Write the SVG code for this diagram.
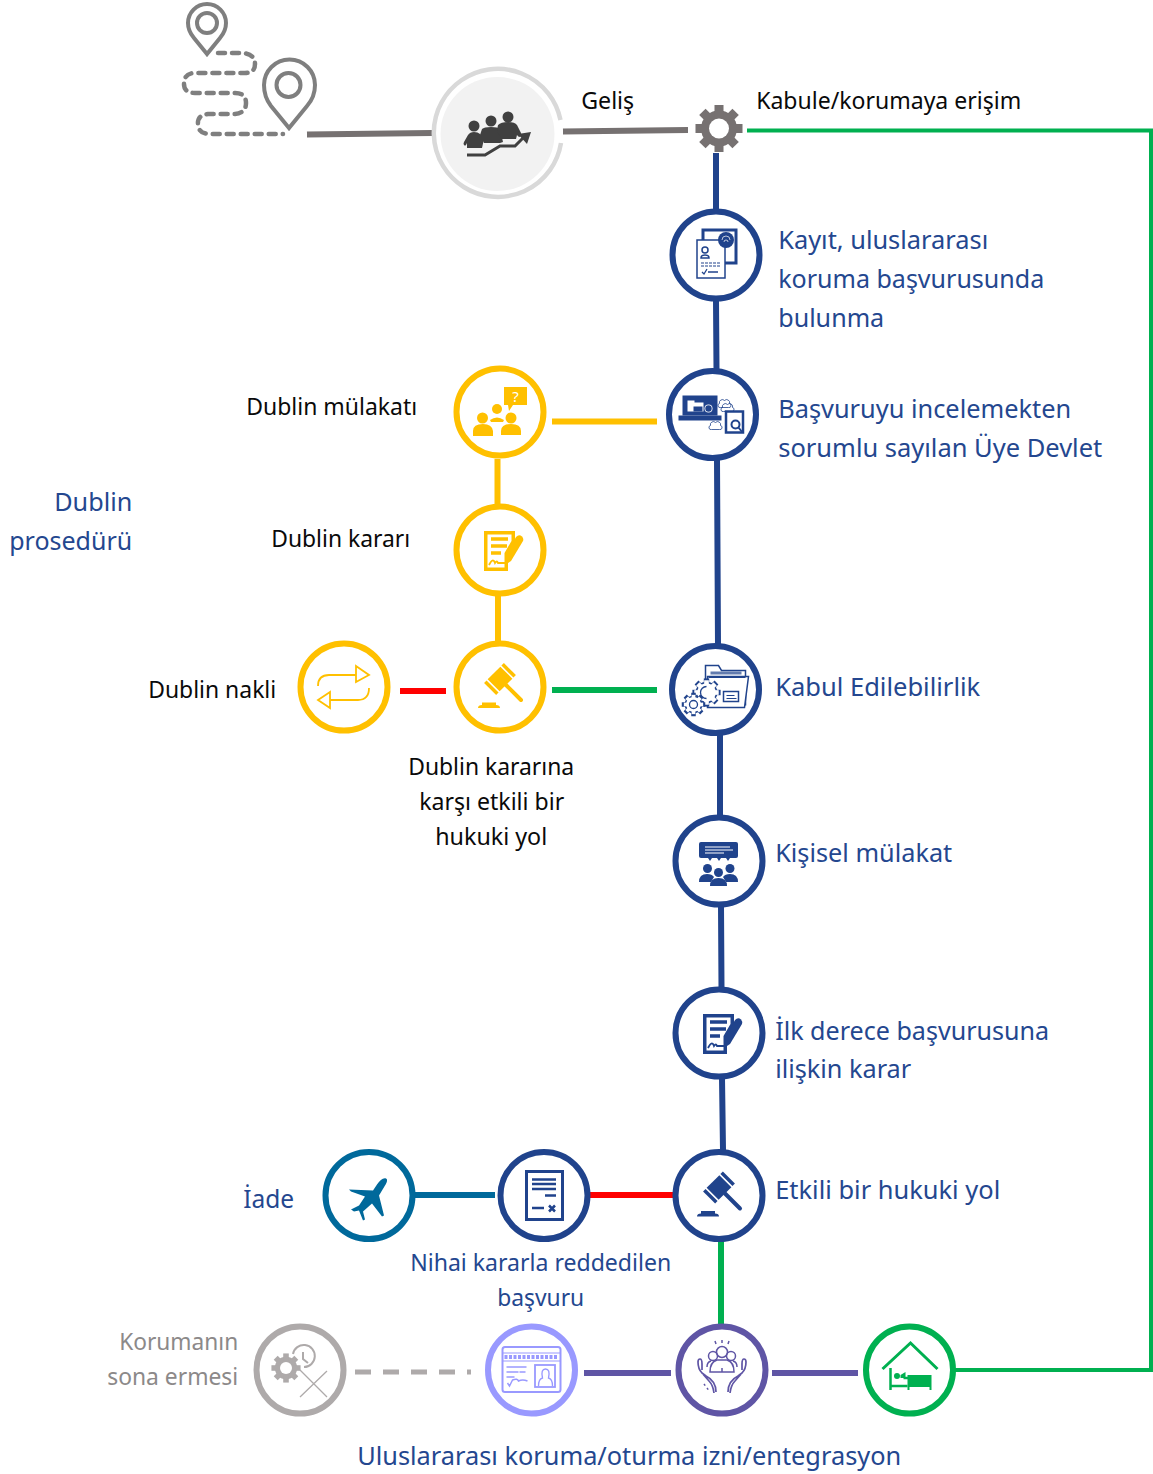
<svg xmlns="http://www.w3.org/2000/svg" width="1153" height="1474" viewBox="0 0 1153 1474">
<style>
text{font-family:"Noto Sans","Open Sans","Liberation Sans",sans-serif}
.k{fill:#0a0a0a;font-size:23px}
.b{fill:#24478f;font-size:26px}
.s{fill:#24478f;font-size:24px}
.g{fill:#8c8989;font-size:23px}
.ring{fill:#fff;stroke-width:6;stroke:currentColor}
.navy{color:#20438c}.yel{color:#ffc000}.teal{color:#00699b}.lav{color:#9999ff}.pur{color:#5f55a5}.grn{color:#00b050}.gry{color:#aeaaaa}
.f{fill:currentColor;stroke:none}
.l{fill:none;stroke:currentColor}
#connectors path{fill:none;stroke-width:6}
</style>
<defs>
<g id="g8">
<circle r="18"/>
<g id="t2"><rect x="-4.500" y="-23.500" width="9" height="47"/><rect x="-4.500" y="-23.500" width="9" height="47" transform="rotate(90)"/></g>
<rect x="-4.500" y="-23.500" width="9" height="47" transform="rotate(45)"/>
<rect x="-4.500" y="-23.500" width="9" height="47" transform="rotate(135)"/>
</g>
<g id="decide">
<path class="f" d="M-16,-19H15V-8L8,4V21H-16Z"/>
<path d="M-12.500,-15.500H11.500V-9L4.500,3V17.500H-12.500Z" fill="#fff"/>
<path class="l" stroke-width="3.500" d="M-9,-11H8M-9,-4H7M-9,3H1"/>
<path class="f" d="M16,-13Q19,-16 22,-13.500Q24,-11 23,-9L11,11L5,15L5.500,6Z"/>
<path class="l" stroke-width="1.800" d="M-11,15Q-7,7 -5,13Q-3,10 -2,13H5"/>
</g>
<g id="gavel">
<g transform="translate(0,-8) rotate(-45)">
<rect x="-9" y="-8.500" width="18" height="17" class="f"/>
<rect x="-14" y="-8.500" width="3.500" height="17" class="f"/>
<rect x="10.500" y="-8.500" width="3.500" height="17" class="f"/>
</g>
<path class="l" stroke-width="4" stroke-linecap="round" d="M6,-2L21,13"/>
<path class="f" d="M-22,21Q-22,18 -18,18V15.500H-4V18Q0,18 0,21Z"/>
</g>
</defs>

<g id="connectors">
<path stroke="#767171" d="M307,134.500L432,133"/>
<path stroke="#767171" d="M563,131.500L688,130"/>
<path stroke="#00b050" style="stroke-width:4" d="M747,130.500H1151V1370H955"/>
<path stroke="#20438c" d="M716,153V210M716,300L716.500,370M717,460L718,645M720,735V816M721,906L721.500,988M722,1078L723,1150"/>
<path stroke="#ffc000" d="M552,421.500H657M497.500,459V504M498,596V641"/>
<path stroke="#ff0000" d="M400,691H446M590,1195H674"/>
<path stroke="#00b050" d="M552,690H657M721,1238V1325"/>
<path stroke="#00699b" d="M414,1195H495"/>
<path stroke="#5f55a5" d="M584,1373H671M772,1373H858"/>
<path stroke="#aeaaaa" stroke-dasharray="16 12" style="stroke-width:5" d="M355,1372H471"/>
</g>

<g id="start-pins" fill="none" stroke="#7f7f7f">
<path stroke-width="4" d="M207,54L194,38Q188,31 188,23A19,19 0 0 1 226,23Q226,31 220,38Z"/>
<circle cx="207" cy="23" r="10" stroke-width="4"/>
<path stroke-width="4" d="M289,128L271,106Q264,97 264,85A25.500,25.500 0 0 1 315,85Q315,97 307,106Z"/>
<circle cx="288.500" cy="85" r="12" stroke-width="4"/>
<path stroke-width="4.500" stroke-linecap="round" stroke-dasharray="7 7" d="M218,53H240Q255,53 255,64Q255,73 245,73H195Q184,73 184,84Q184,93 195,93H235Q246,93 246,103Q246,113 235,114H208Q197,115 198,125Q199,134 210,134H283"/>
</g>

<g id="arrival">
<circle cx="497.500" cy="134" r="57" fill="#f2f2f2"/>
<path fill="none" stroke="#d9d9d9" stroke-width="4.500" d="M560.500,120A64,64 0 1 0 561,143"/>
<g fill="#404040">
<circle cx="474" cy="126" r="5.500"/><circle cx="491" cy="121" r="5.500"/><circle cx="508" cy="117" r="5.500"/>
<path d="M464,145Q463,144 464,142L468,135Q470,132 474,132Q478,132 480,134L484,139L482,148H467V143L466,145Q465,146 464,145Z"/>
<path d="M482,129Q484,127 491,127Q498,127 500,129L503,142L500,143H484L480,135Z"/>
<path d="M498,125Q501,122 508,122Q515,122 517,125L521,133Q522,136 520,137Q518,137 517,135L516,139H501L497,130Z"/>
</g>
<path fill="none" stroke="#404040" stroke-width="3" d="M467,155H485L500,146H515L526,135"/>
<path fill="#404040" d="M518,134L531,132L527,144Z"/>
</g>

<g id="gate" transform="translate(719,128.500)">
<use href="#g8" fill="#767171"/><circle r="10" fill="#fff"/>
</g>

<g id="n-kayit" class="navy" transform="translate(716,255)">
<circle class="ring" r="43.500"/>
<rect x="-13" y="-25" width="33" height="33" class="l" stroke-width="3"/>
<rect x="-19" y="-15" width="28" height="38" fill="#fff" stroke="currentColor" stroke-width="1.500"/>
<circle cx="10" cy="-15" r="8" class="f"/>
<path d="M6,-15a4,4 0 0 1 8,0M8,-13a2,2 0 0 1 4,0" class="l" stroke-width=".7" style="stroke:#fff"/>
<circle cx="-11" cy="-5" r="3" class="l" stroke-width="1.500"/>
<path class="l" stroke-width="1.500" d="M-15,3Q-15,0 -11,0Q-7,0 -7,3Z"/>
<path class="l" stroke-width="1.200" stroke-dasharray="3 1" d="M-15,8H4M-15,11H4"/>
<path class="l" stroke-width="1.300" d="M-14,17L-12,19L-9,14M-8,17H2"/>
</g>

<g id="n-basvuru" class="navy" transform="translate(712.500,414.500)">
<circle class="ring" r="43.500"/>
<rect x="-30" y="-19" width="35" height="20" class="f"/>
<rect x="-34" y="1" width="43" height="5" class="f"/>
<path d="M-25,-14H-18V-12H-9V-3H-25Z" fill="#fff"/>
<path class="f" d="M-19,-8H-10V-3H-19Z"/>
<circle cx="-4" cy="-6" r="4" fill="#fff"/><circle cx="-4" cy="-6" r="3.200" class="f"/>
<rect x="13.500" y="-3" width="17" height="21" class="l" stroke-width="2.500"/>
<circle cx="23" cy="10" r="4" class="l" stroke-width="2"/>
<path class="l" stroke-width="2" d="M26,13L30,18"/>
<path class="l" stroke-width=".8" d="M7,-11a3,3 0 0 1 5,-3a3,3 0 0 1 5,3a2,2 0 0 1 -1,4H8a2,2 0 0 1 -1,-4ZM10,-7a3,3 0 0 1 5,-3a3,3 0 0 1 5,3a2,2 0 0 1 -1,4H11a2,2 0 0 1 -1,-4ZM-2,11a3,3 0 0 1 5,-3a3,3 0 0 1 5,3a2,2 0 0 1 -1,4H-1a2,2 0 0 1 -1,-4Z"/>
</g>

<g id="n-kabul" class="navy" transform="translate(715.500,689.500)">
<circle class="ring" r="43.500"/>
<path class="l" stroke-width="1.500" d="M-10,-8V-24H3L6,-19H30V16"/>
<path fill="#fff" stroke="currentColor" stroke-width="1.500" d="M-8,-13H33L29,18H-8Z"/>
<path class="f" d="M-5,-18H26V-15H-5Z" opacity=".7"/>
<path class="l" stroke-width="1" d="M-7,-12H30"/>
<rect x="8" y="2" width="15" height="10" fill="#fff" stroke="currentColor" stroke-width="1.500"/>
<path class="l" stroke-width="1" d="M11,6H19M11,9H21"/>
<g transform="translate(-9,3)">
<use href="#g8" transform="scale(.6)" fill="#20438c"/><use href="#g8" transform="scale(.52)" fill="#fff"/>
<path class="l" stroke-width="1.300" d="M0,-6A6,6 0 0 0 0,6"/>
</g>
<g transform="translate(-22,15)">
<use href="#g8" transform="scale(.5)" fill="#20438c"/><use href="#g8" transform="scale(.41)" fill="#fff"/>
<circle r="4" class="l" stroke-width="1.300"/>
</g>
</g>

<g id="n-kisisel" class="navy" transform="translate(719,861)">
<circle class="ring" r="43.500"/>
<rect x="-20" y="-19" width="39" height="16" rx="2" class="f"/>
<path d="M-14,-14H11M-14,-11H14M-14,-8H5" stroke="#fff" stroke-width="1" fill="none"/>
<circle cx="-11.500" cy="7.500" r="4.500" class="f"/><circle cx="11" cy="7.500" r="4.500" class="f"/>
<path class="f" d="M-20,21Q-20,13 -12,13Q-7,13 -5,16L-8,21ZM19,21Q19,13 11,13Q6,13 4,16L7,21Z"/>
<circle cx="-.500" cy="11.500" r="4.500" class="f"/>
<path class="f" d="M-9,25Q-9,17 -.500,17Q8,17 8,25Z"/>
<path class="f" d="M-11,-3L-9,0L-7,-3ZM-2,-3L0,0L2,-3ZM7,-3L9,0L11,-3Z"/>
</g>

<g id="n-ilk" class="navy" transform="translate(719,1033)">
<circle class="ring" r="43.500"/><use href="#decide"/>
</g>

<g id="n-etkili" class="navy" transform="translate(719,1195.500)">
<circle class="ring" r="43.500"/><use href="#gavel"/>
</g>

<g id="n-nihai" class="navy" transform="translate(544,1195.500)">
<circle class="ring" r="43.500"/>
<rect x="-17.500" y="-24" width="36" height="48" class="l" stroke-width="3"/>
<path class="l" stroke-width="2.500" d="M-12,-16H12M-12,-11.500H12M-12,-6.500H12M1,0H12M-12,12.500H0"/>
<path class="l" stroke-width="2.500" d="M5,10L11,16M11,10L5,16"/>
</g>

<g id="n-iade" class="teal" transform="translate(369,1195.500)">
<circle class="ring" r="43.500"/>
<path class="f" d="M17,-17C14,-18 11,-15 8,-11L4,-5L-20,-6L-18,-4L-4,1L-10,10L-18,14L-15,16L-10,15L-6,25L-4,24L-6,16L3,8L13,21L15,20L10,0L16,-10C18,-13 19,-16 17,-17Z"/>
</g>

<g id="n-mulakat" class="yel" transform="translate(500,412)">
<circle class="ring" r="43.500"/>
<path class="f" d="M4,-25H27V-7H13L9,-1L8,-7H4Z"/>
<text x="15.500" y="-10" text-anchor="middle" style="fill:#fff;font-size:15px">?</text>
<circle cx="-17.500" cy="6" r="5.500" class="f"/><circle cx="11" cy="6" r="5.500" class="f"/><circle cx="-3" cy="-3" r="5" class="f"/>
<path class="f" d="M-27,24V19Q-27,12 -17,12Q-8,12 -7,19V24ZM1,23V19Q1,12 11,12Q21,12 21,19V23ZM-10,8Q-3,3 4,8L3,10H-9Z"/>
</g>

<g id="n-karar" class="yel" transform="translate(500,550)">
<circle class="ring" r="43.500"/><use href="#decide"/>
</g>

<g id="n-yol" class="yel" transform="translate(500,687)">
<circle class="ring" r="43.500"/><use href="#gavel"/>
</g>

<g id="n-nakli" class="yel" transform="translate(344,687)">
<circle class="ring" r="43.500"/>
<path class="l" stroke-width="1.800" d="M-26,-1Q-26,-12 -15,-12H12M12,-21L25,-12L12,-5ZM25,1Q25,13 14,13H-14M-14,5L-26,13L-14,21Z"/>
</g>

<g id="n-sona" class="gry" transform="translate(300,1370)">
<circle class="ring" r="43.500"/>
<use href="#g8" transform="translate(-14,-2) scale(.62)" fill="#aeaaaa"/><circle cx="-14" cy="-2" r="6" fill="#fff"/>
<path class="l" stroke-width="2" d="M-7,-16A11,11 0 1 1 4,-3M3,-18V-11L8,-7"/>
<path class="l" stroke-width="1.300" d="M0,0L27,27M27,1L0,27"/>
</g>

<g id="n-izin" class="lav" transform="translate(531.500,1370)">
<circle class="ring" r="43.500"/>
<rect x="-29" y="-23" width="58" height="45" rx="2.500" class="l" stroke-width="2"/>
<path class="l" stroke-width="1" d="M-29,-17H29M-29,-9H29"/>
<path class="l" stroke-width="4" stroke-dasharray="3 1.500" d="M-27,-13H27"/>
<rect x="3.500" y="-5" width="20" height="22" class="l" stroke-width="1.800"/>
<path class="l" stroke-width="1.300" d="M7,16Q7,9 11,8Q9,-1 14,-1Q19,-1 17,8Q21,9 21,16"/>
<path class="l" stroke-width="1.500" d="M-25,-3H-5M-25,2H-13M-12,2H-6M-25,7H-17M-24,13L-22,16L-19,10Q-14,8 -13,11Q-9,9 -4,11"/>
</g>

<g id="n-entegrasyon" class="pur" transform="translate(722,1370)">
<circle class="ring" r="43.500"/>
<g class="l" stroke-width="1.500">
<circle cx="0" cy="-18" r="5.500"/><circle cx="-9" cy="-14" r="4.500"/><circle cx="9" cy="-14" r="4.500"/>
<path d="M-12,2Q-12,-8 -5,-10H5Q12,-8 12,2ZM-15,-3Q-15,-8 -11,-9M15,-3Q15,-8 11,-9M0,-2V2M0,-30V-27M-7,-29L-6,-26M7,-29L6,-26"/>
<path stroke-width="1.700" d="M-8,23Q-9,15 -13,11L-20,3M-6,22Q-6,11 -16,6L-20,3Q-24,-1 -24,-8Q-24,-11 -22,-11Q-20,-11 -20,-6V0M8,23Q9,15 13,11L20,3M6,22Q6,11 16,6L20,3Q24,-1 24,-8Q24,-11 22,-11Q20,-11 20,-6V0"/>
<path stroke-dasharray="2 3" d="M-18,14L-12,22"/>
</g>
</g>

<g id="n-konaklama" class="grn" transform="translate(909.500,1370)">
<circle class="ring" r="43.500"/>
<path class="l" stroke-width="3" d="M-27,-1L1,-27L28,-1"/>
<path class="l" stroke-width="2.500" d="M-19,-2V20M-19,16H-2M-6,8H-1"/>
<circle cx="-12.500" cy="6" r="3" class="f"/>
<path class="f" d="M-9,5L-4,2V8H-9Z"/>
<path class="f" d="M-2,5H22V20H20V17H0V20H-2Z"/>
</g>

<g id="labels" transform="translate(-.8,0)">
<text class="k" x="582" y="109" textLength="53" lengthAdjust="spacingAndGlyphs">Geliş</text>
<text class="k" x="757" y="109" textLength="265" lengthAdjust="spacingAndGlyphs">Kabule/korumaya erişim</text>
<text class="b" x="779" y="249" textLength="210" lengthAdjust="spacingAndGlyphs">Kayıt, uluslararası</text>
<text class="b" x="779" y="288" textLength="266" lengthAdjust="spacingAndGlyphs">koruma başvurusunda</text>
<text class="b" x="779" y="327" textLength="106" lengthAdjust="spacingAndGlyphs">bulunma</text>
<text class="b" x="779" y="418" textLength="293" lengthAdjust="spacingAndGlyphs">Başvuruyu incelemekten</text>
<text class="b" x="779" y="457" textLength="324" lengthAdjust="spacingAndGlyphs">sorumlu sayılan Üye Devlet</text>
<text class="b" x="55" y="511" textLength="78" lengthAdjust="spacingAndGlyphs">Dublin</text>
<text class="b" x="10" y="550" textLength="123" lengthAdjust="spacingAndGlyphs">prosedürü</text>
<text class="k" x="247" y="415" textLength="171" lengthAdjust="spacingAndGlyphs">Dublin mülakatı</text>
<text class="k" x="272" y="547" textLength="139" lengthAdjust="spacingAndGlyphs">Dublin kararı</text>
<text class="k" x="149" y="698" textLength="128" lengthAdjust="spacingAndGlyphs">Dublin nakli</text>
<text class="b" x="776" y="696" textLength="205" lengthAdjust="spacingAndGlyphs">Kabul Edilebilirlik</text>
<text class="k" x="409" y="775" textLength="166" lengthAdjust="spacingAndGlyphs">Dublin kararına</text>
<text class="k" x="420" y="810" textLength="145" lengthAdjust="spacingAndGlyphs">karşı etkili bir</text>
<text class="k" x="436" y="845" textLength="112" lengthAdjust="spacingAndGlyphs">hukuki yol</text>
<text class="b" x="776" y="862" textLength="177" lengthAdjust="spacingAndGlyphs">Kişisel mülakat</text>
<text class="b" x="776" y="1040" textLength="274" lengthAdjust="spacingAndGlyphs">İlk derece başvurusuna</text>
<text class="b" x="776" y="1078" textLength="136" lengthAdjust="spacingAndGlyphs">ilişkin karar</text>
<text class="b" x="776" y="1199" textLength="225" lengthAdjust="spacingAndGlyphs">Etkili bir hukuki yol</text>
<text class="b" x="244" y="1208" textLength="51" lengthAdjust="spacingAndGlyphs">İade</text>
<text class="s" x="411" y="1271" textLength="261" lengthAdjust="spacingAndGlyphs">Nihai kararla reddedilen</text>
<text class="s" x="498" y="1306" textLength="87" lengthAdjust="spacingAndGlyphs">başvuru</text>
<text class="g" x="120" y="1350" textLength="119" lengthAdjust="spacingAndGlyphs">Korumanın</text>
<text class="g" x="108" y="1385" textLength="131" lengthAdjust="spacingAndGlyphs">sona ermesi</text>
<text class="b" x="358" y="1465" textLength="544" lengthAdjust="spacingAndGlyphs">Uluslararası koruma/oturma izni/entegrasyon</text>
</g>
</svg>
